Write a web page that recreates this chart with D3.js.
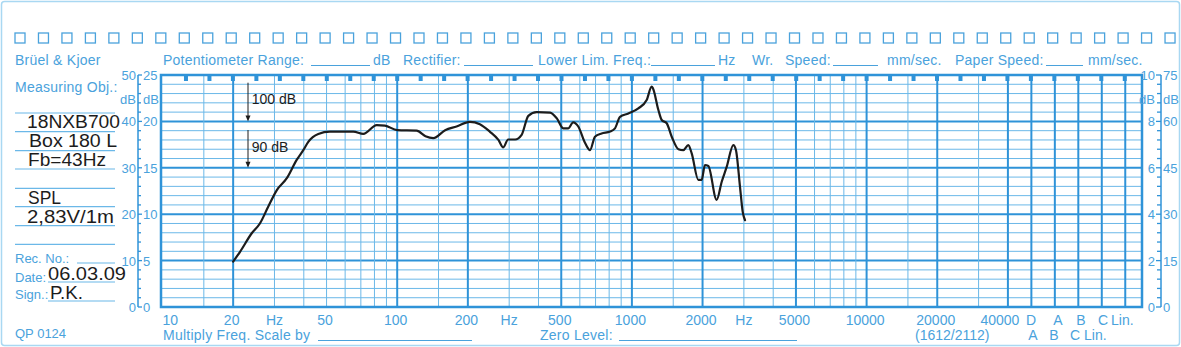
<!DOCTYPE html>
<html>
<head>
<meta charset="utf-8">
<script src="https://cdn.jsdelivr.net/npm/d3@7"></script>
<style>
  body { margin: 0; background: #fff; }
  svg { display: block; font-family: "Liberation Sans", Arial, sans-serif; }
  .sp { letter-spacing: 0.25px; }
</style>
</head>
<body>
<svg id="chart"></svg>
<script>
// measured response, SPL at 2.83 V / 1 m
const freqHz = [20, 21.4, 24, 26, 28.2, 30.7, 33.8, 37.3, 39.8, 41.8, 46.1, 51.7, 65, 71.7, 81.8, 88.7,
  100, 121, 132, 142.5, 160, 179, 204, 225, 248, 270, 283, 297, 318, 339, 362, 393, 448, 478, 510,
  536, 562, 591, 631, 663, 696, 743, 807, 847, 890, 966, 1065, 1156, 1214, 1230, 1296, 1340, 1407,
  1478, 1578, 1656, 1739, 1798, 1919, 1983, 2048, 2117, 2296, 2414, 2534, 2705, 2776, 2888, 2966, 3034];
const splDb = [69.8, 71.9, 75.9, 78.0, 81.6, 85.2, 87.7, 91.7, 93.8, 95.6, 97.3, 97.8, 97.8, 97.3, 99.2, 99.1,
  98.1, 98.0, 96.8, 96.4, 98.1, 98.9, 99.9, 99.4, 97.8, 96.0, 94.4, 96.1, 96.1, 97.1, 101.2, 102.0, 101.9, 100.7, 98.5,
  98.5, 99.8, 98.9, 95.4, 93.8, 96.7, 97.4, 97.8, 98.5, 101.0, 101.7, 102.8, 104.6, 107.5, 107.1, 102.5, 100.3, 99.6,
  96.7, 94.0, 93.8, 94.9, 93.1, 87.4, 87.4, 90.6, 90.4, 83.1, 87.0, 90.2, 94.9, 93.8, 85.9, 80.5, 78.7];

// chart paper scales
const freqLabels = [10, 20, 50, 100, 200, 500, 1000, 2000, 5000, 10000, 20000, 40000];
const hzLabelAt = [30, 300, 3000];
const gridMults = [1, 1.5, 2, 3, 4, 5, 6, 7, 8, 9];
const gridDecades = [10, 100, 1000, 10000];
const boldFreqs = [20, 100, 200, 500, 1000, 2000, 5000, 10000, 20000, 40000];
const weightCols = ["D", "A", "B", "C", "Lin."];
const weightRow2 = ["A", "B", "C", "Lin."];
const leftOuter = [0, 10, 20, 30, 40, 50];
const leftInner = [0, 5, 10, 15, 20, 25];
const rightInner = [0, 2, 4, 6, 8, 10];
const rightOuter = [0, 15, 30, 45, 60, 75];

const W = 1181, H = 347;
const blue = "#2f93d8", thin = "#6bb8e8", txt = "#4aa2dc", pale = "#a9d8f2", ink = "#1c1c1c";
const X0 = 162.5, DEC = 234.7, STEP = DEC / 10;
const pTop = 75, pBottom = 307, pLeft = 161, pRight = 1142;

const svg = d3.select("#chart").attr("width", W).attr("height", H);

const x = d3.scaleLog().domain([10, 100000]).range([X0, X0 + 4 * DEC]);
const y = d3.scaleLinear().domain([60, 110]).range([pBottom, pTop]);   // dB SPL
const yOut = d3.scaleLinear().domain([0, 50]).range([pBottom, pTop]);  // paper dB

// paper border
svg.append("rect").attr("x", 1.5).attr("y", 1.5).attr("width", W - 3).attr("height", H - 3)
  .attr("rx", 3).attr("fill", "none").attr("stroke", pale).attr("stroke-width", 1.5);

// sprocket squares
svg.append("g").selectAll("rect").data(d3.range(50)).join("rect")
  .attr("x", i => 15 + i * 23.47).attr("y", 33).attr("width", 10).attr("height", 10)
  .attr("fill", "none").attr("stroke", txt).attr("stroke-width", 1.3);

// header
const head = svg.append("g").attr("fill", txt).attr("font-size", 14).attr("class", "sp");
[["Brüel  & Kjoer", 15], ["Potentiometer Range:", 163], ["dB", 373], ["Rectifier:", 403],
 ["Lower Lim. Freq.:", 538], ["Hz", 718], ["Wr.", 752], ["Speed:", 785], ["mm/sec.", 887],
 ["Paper Speed:", 955], ["mm/sec.", 1088]].forEach(([t, px]) =>
  head.append("text").attr("x", px).attr("y", 65).text(t));
[[311, 370], [464, 533], [651, 715], [833, 878], [1046, 1083]].forEach(([a, b]) =>
  head.append("line").attr("x1", a).attr("x2", b).attr("y1", 65.5).attr("y2", 65.5)
    .attr("stroke", txt).attr("stroke-width", 1));

// left info panel
const info = svg.append("g");
info.append("text").attr("x", 15).attr("y", 92).attr("fill", txt).attr("font-size", 14)
  .attr("class", "sp").text("Measuring Obj.:");
[113, 131.7, 150.7, 169, 188.3, 206.7, 225.7, 244.3].forEach(v =>
  info.append("line").attr("x1", 15).attr("x2", 115).attr("y1", v).attr("y2", v)
    .attr("stroke", thin).attr("stroke-width", 1.2));
[[77, 263], [48, 282], [48, 301]].forEach(([a, v]) =>
  info.append("line").attr("x1", a).attr("x2", 115).attr("y1", v).attr("y2", v)
    .attr("stroke", thin).attr("stroke-width", 1.2));
[["Rec.  No.:", 262.7], ["Date:", 281.7], ["Sign.:", 299], ["QP  0124", 338]].forEach(([t, v]) =>
  info.append("text").attr("x", 15).attr("y", v).attr("fill", txt).attr("font-size", 13).text(t));
[["18NXB700", 27, 128, 93], ["Box 180 L", 29, 147, 88], ["Fb=43Hz", 28, 166, 78], ["SPL", 28, 204, 33],
 ["2,83V/1m", 27, 223, 87], ["06.03.09", 48, 280, 78], ["P.K.", 50, 299.3, 33]].forEach(([t, px, v, w]) =>
  info.append("text").attr("x", px).attr("y", v).attr("fill", ink).attr("font-size", 18)
    .attr("textLength", w).attr("lengthAdjust", "spacingAndGlyphs").text(t));

// grid: horizontal
const grid = svg.append("g");
d3.range(60, 111, 2).forEach(d => {
  grid.append("line").attr("x1", pLeft).attr("x2", pRight).attr("y1", y(d)).attr("y2", y(d))
    .attr("stroke", d % 10 === 0 ? blue : thin).attr("stroke-width", d % 10 === 0 ? 2 : 1);
});
// grid: vertical frequency lines
const vFreqs = gridDecades.flatMap(dec => gridMults.map(m => dec * m)).filter(f => f > 10 && f <= 40000);
vFreqs.forEach(f => {
  const bold = boldFreqs.includes(f);
  grid.append("line").attr("x1", x(f)).attr("x2", x(f)).attr("y1", pTop).attr("y2", pBottom)
    .attr("stroke", bold ? blue : thin).attr("stroke-width", bold ? 2 : 1);
});
// weighting columns
weightCols.forEach((c, i) => {
  const cx = x(40000) + (i + 1) * STEP;
  grid.append("line").attr("x1", cx).attr("x2", cx).attr("y1", pTop).attr("y2", pBottom)
    .attr("stroke", blue).attr("stroke-width", 2);
});
// plot frame
grid.append("rect").attr("x", pLeft).attr("y", pTop).attr("width", pRight - pLeft).attr("height", pBottom - pTop)
  .attr("fill", "none").attr("stroke", blue).attr("stroke-width", 2.5);
// top markers
grid.selectAll(".mark").data(d3.range(1, 42)).join("rect").attr("class", "mark")
  .attr("x", k => X0 + k * STEP - 2).attr("y", pTop).attr("width", 4).attr("height", 6).attr("fill", blue);

// left and right scales
const ax = svg.append("g").attr("fill", txt).attr("font-size", 13);
ax.append("line").attr("x1", 138).attr("x2", 138).attr("y1", pTop).attr("y2", pBottom).attr("stroke", blue).attr("stroke-width", 1.5);
ax.append("line").attr("x1", 1161).attr("x2", 1161).attr("y1", pTop).attr("y2", pBottom).attr("stroke", blue).attr("stroke-width", 1.5);
d3.range(0, 51, 2).forEach(d => {
  const major = d % 10 === 0;
  ax.append("line").attr("x1", 138).attr("x2", major ? 142 : 141).attr("y1", yOut(d)).attr("y2", yOut(d))
    .attr("stroke", blue).attr("stroke-width", 1.3);
  ax.append("line").attr("x1", 1161).attr("x2", major ? 1156 : 1157).attr("y1", yOut(d)).attr("y2", yOut(d))
    .attr("stroke", blue).attr("stroke-width", 1.3);
});
leftOuter.forEach(d => ax.append("text").attr("x", 136).attr("y", yOut(d) + 5).attr("text-anchor", "end").text(d));
leftInner.forEach(d => ax.append("text").attr("x", 143).attr("y", yOut(d * 2) + 5).text(d));
rightInner.forEach(d => ax.append("text").attr("x", 1155).attr("y", yOut(d * 5) + 5).attr("text-anchor", "end").text(d));
rightOuter.forEach(d => ax.append("text").attr("x", 1163).attr("y", yOut(d * 2 / 3) + 5).text(d));
[[136, "end"], [143, "start"], [1155, "end"], [1163, "start"]].forEach(([px, a]) =>
  ax.append("text").attr("x", px).attr("y", 104).attr("text-anchor", a).text("dB"));

// bottom labels
const bot = svg.append("g").attr("fill", txt).attr("font-size", 14);
freqLabels.forEach((f, i) => {
  const shift = f === 40000 ? -8 : -1.5;
  bot.append("text").attr("x", i === 0 ? X0 : x(f) + shift).attr("y", 325)
    .attr("text-anchor", i === 0 ? "start" : "middle").text(f);
});
hzLabelAt.forEach(f => bot.append("text").attr("x", x(f)).attr("y", 325).attr("text-anchor", "middle").text("Hz"));
[1031, 1058, 1081, 1103].forEach((px, i) => bot.append("text").attr("x", px).attr("y", 325).attr("text-anchor", "middle").text(weightCols[i]));
bot.append("text").attr("x", 1111).attr("y", 325).text(weightCols[4]);
bot.append("text").attr("x", 163).attr("y", 340).attr("class", "sp").text("Multiply Freq. Scale by");
bot.append("line").attr("x1", 318).attr("x2", 472).attr("y1", 340.5).attr("y2", 340.5).attr("stroke", txt);
bot.append("text").attr("x", 540).attr("y", 340).attr("class", "sp").text("Zero Level:");
bot.append("line").attr("x1", 619).attr("x2", 797).attr("y1", 340.5).attr("y2", 340.5).attr("stroke", txt);
bot.append("text").attr("x", 915).attr("y", 340).text("(1612/2112)");
[1033, 1054, 1075].forEach((px, i) => bot.append("text").attr("x", px).attr("y", 340).attr("text-anchor", "middle").text(weightRow2[i]));
bot.append("text").attr("x", 1084).attr("y", 340).text(weightRow2[3]);

// level arrows
const arr = svg.append("g").attr("stroke", ink).attr("fill", ink);
[[82.7, 100, "100 dB", 104.3], [130, 90, "90 dB", 151.7]].forEach(([y1, lvl, t, ty]) => {
  const y2 = y(lvl);
  arr.append("line").attr("x1", 248).attr("x2", 248).attr("y1", y1).attr("y2", y2 - 4).attr("stroke-width", 1);
  arr.append("path").attr("d", `M245.5,${y2 - 6}L250.5,${y2 - 6}L248,${y2}Z`).attr("stroke", "none");
  arr.append("text").attr("x", 251.7).attr("y", ty).attr("stroke", "none").attr("font-size", 14).text(t);
});

// response curve
const line = d3.line().x((d, i) => x(freqHz[i])).y(d => y(d)).curve(d3.curveMonotoneX);
svg.append("path").attr("d", line(splDb)).attr("fill", "none").attr("stroke", ink)
  .attr("stroke-width", 2.2).attr("stroke-linejoin", "round").attr("stroke-linecap", "round");
</script>
</body>
</html>
